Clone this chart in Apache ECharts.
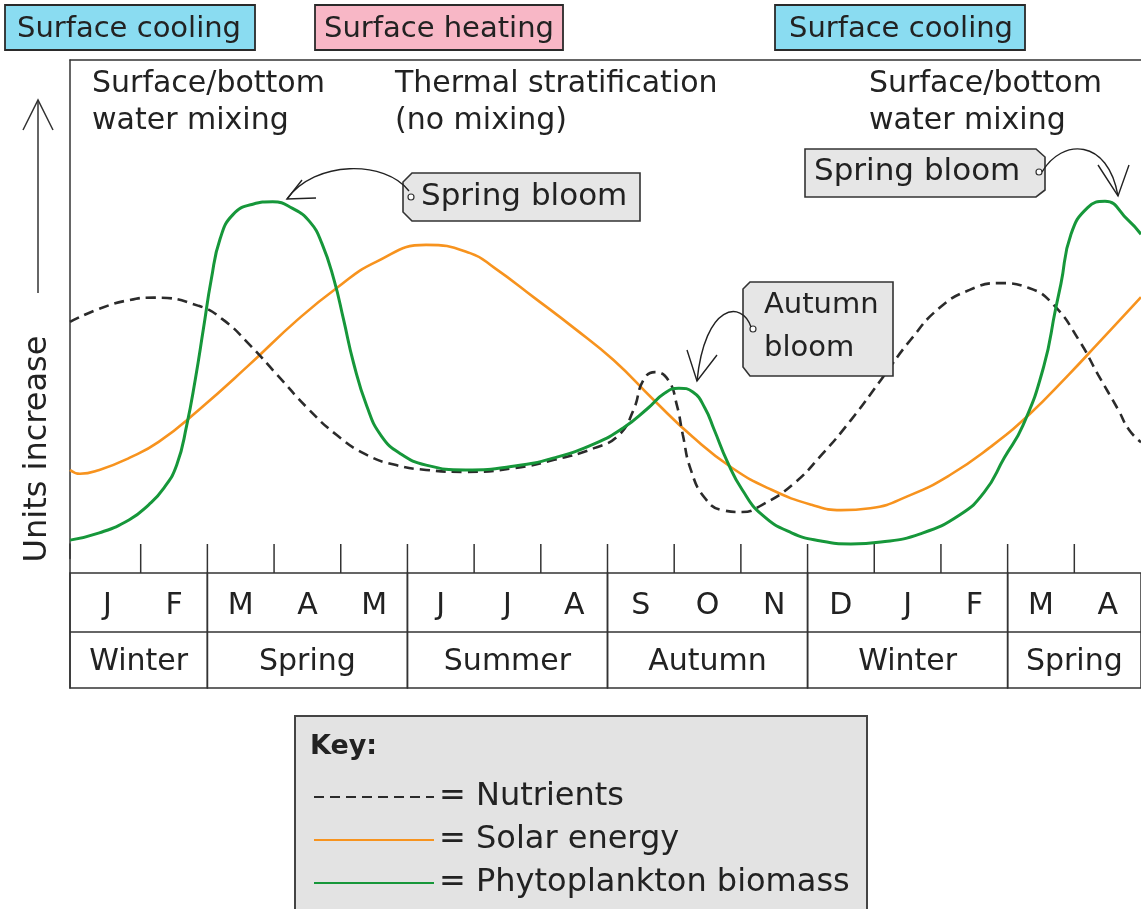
<!DOCTYPE html>
<html><head><meta charset="utf-8">
<script src="https://cdn.jsdelivr.net/npm/echarts@6/dist/echarts.min.js"></script>
<style>html,body{margin:0;padding:0;background:#fff}#c{width:1141px;height:909px}</style>
</head><body><div id="c"></div>
<script>
// ---------- data ----------
const months = ['J','F','M','A','M','J','J','A','S','O','N','D','J','F','M','A'];
const seasons = ['Winter','Spring','Summer','Autumn','Winter','Spring'];
const seasonStart = [0, 2, 5, 8, 11, 14];
const seasonEnd = [2, 5, 8, 11, 14, 16];
const seriesNames = ['Nutrients', 'Solar energy', 'Phytoplankton biomass'];
// [month position, relative units]
const nutrients = [[-0.06,45.9],[0.38,48.6],[0.83,50.4],[1.2,50.9],[1.87,49.2],[2.24,46.3],[2.61,41.5],[3.05,34.9],[3.5,28.1],[3.94,22.5],[4.39,18.4],[4.83,16.3],[5.28,15.3],[5.87,14.9],[6.61,15.7],[7.2,17.4],[7.8,19.8],[8.17,22.5],[8.39,27.7],[8.54,33.9],[8.71,35.5],[8.91,33.9],[9.04,28.7],[9.13,22.5],[9.25,15.3],[9.46,9.5],[9.72,7.0],[10.02,6.6],[10.32,8.1],[10.77,12.2],[11.21,18.4],[11.65,25.6],[12.1,33.9],[12.54,42.1],[12.98,48.8],[13.43,52.5],[13.87,53.9],[14.32,52.9],[14.69,49.4],[15.07,42.1],[15.36,34.9],[15.66,27.7],[15.82,23.6],[16,21]];
const solarEnergy = [[-0.06,15.3],[0.09,14.5],[0.38,15.3],[0.83,17.8],[1.27,21.1],[1.87,27.7],[2.61,36.8],[3.35,46.3],[3.94,52.9],[4.53,58.3],[5.28,61.8],[5.94,60.1],[6.31,57.0],[6.91,50.8],[7.5,44.6],[8.09,38.0],[8.69,29.8],[9.28,22.1],[9.87,15.7],[10.46,11.2],[11.06,8.1],[11.5,7.0],[11.94,7.4],[12.54,10.1],[13.13,14.2],[13.72,19.8],[14.32,26.7],[14.91,34.9],[15.36,41.5],[15.82,48.3],[16,51]];
const phytoplankton = [[-0.06,0.8],[0.38,2.3],[0.83,5.0],[1.12,8.1],[1.35,11.6],[1.54,16.3],[1.69,24.5],[1.82,34.1],[1.94,44.4],[2.06,54.8],[2.19,63.0],[2.38,68.0],[2.68,70.2],[2.98,70.7],[3.27,69.4],[3.54,66.5],[3.72,62.0],[3.9,54.5],[4.04,46.5],[4.19,37.5],[4.39,28.5],[4.61,22.3],[4.9,18.6],[5.28,16.3],[5.87,15.3],[6.61,16.1],[7.2,17.8],[7.8,20.7],[8.24,24.0],[8.61,28.1],[8.86,31.2],[9.07,32.2],[9.28,31.4],[9.46,28.1],[9.6,23.6],[9.8,16.9],[10.02,11.2],[10.32,6.0],[10.76,2.3],[11.2,0.6],[11.65,0],[12.1,0.4],[12.69,2.1],[13.28,6.0],[13.65,10.7],[13.95,17.8],[14.23,24.5],[14.54,36.6],[14.72,48.6],[14.8,53.8],[14.95,64],[15.2,69.5],[15.46,70.8],[15.8,67],[16,64]];

// ---------- style / layout ----------
const X_MIN = -0.06, X_MAX = 16;
const FONT = 'DejaVu Sans';
const INK = '#222';
const FRAME = '#333';
const FS = 30;

const chart = echarts.init(document.getElementById('c'), null, {renderer: 'canvas'});

function monthItem(params, api) {
  const i = params.dataIndex;
  const s = api.value(0), e = api.value(1);
  const c = api.coord([(s + e) / 2, 62]);
  const children = [{
    type: 'text', x: c[0], y: c[1],
    style: {text: months[i], font: FS + 'px ' + FONT, fill: INK, align: 'center', verticalAlign: 'middle'}
  }];
  if (i < months.length - 1) {
    const t0 = api.coord([e, 0]), t1 = api.coord([e, 29]);
    children.push({type: 'line', shape: {x1: t0[0], y1: t0[1], x2: t1[0], y2: t1[1]},
      style: {stroke: FRAME, lineWidth: 1.5}});
  }
  return {type: 'group', children};
}
function seasonItem(params, api) {
  const i = params.dataIndex;
  let s = api.value(0); const e = api.value(1);
  if (s <= 0) s = X_MIN;
  const p0 = api.coord([s, 29]), p1 = api.coord([e, 144]);
  const mid = api.coord([s, 88]);
  const c = api.coord([(s + e) / 2, 118]);
  return {type: 'group', children: [
    {type: 'rect', shape: {x: p0[0], y: p0[1], width: p1[0] - p0[0], height: p1[1] - p0[1]},
      style: {fill: 'none', stroke: FRAME, lineWidth: 1.5}},
    {type: 'line', shape: {x1: mid[0], y1: mid[1], x2: p1[0], y2: mid[1]}, style: {stroke: FRAME, lineWidth: 1.5}},
    {type: 'text', x: c[0], y: c[1],
      style: {text: seasons[i], font: FS + 'px ' + FONT, fill: INK, align: 'center', verticalAlign: 'middle'}}
  ]};
}

function txt(text, x, y, opt) {
  opt = opt || {};
  return {type: 'text', x: x, y: y, z: 100, rotation: opt.rotation || 0,
    style: {text: text, font: (opt.weight || 'normal') + ' ' + (opt.size || FS) + 'px ' + FONT,
      fill: INK, align: opt.align || 'left', verticalAlign: 'middle'}};
}
function box(x, y, w, h, fill) {
  return {type: 'rect', z: 90, shape: {x: x, y: y, width: w, height: h},
    style: {fill: fill, stroke: '#2a2a2a', lineWidth: 1.8}};
}
function tag(points, hole) {
  return [
    {type: 'polygon', z: 90, shape: {points: points}, style: {fill: '#e6e6e6', stroke: '#333', lineWidth: 1.6}},
    {type: 'circle', z: 95, shape: {cx: hole[0], cy: hole[1], r: 3}, style: {fill: '#fff', stroke: '#333', lineWidth: 1.2}}
  ];
}
function arrow(b, tip, a1, a2) {
  return [
    {type: 'bezierCurve', z: 95, shape: {x1: b[0], y1: b[1], cpx1: b[2], cpy1: b[3], cpx2: b[4], cpy2: b[5], x2: tip[0], y2: tip[1]},
      style: {stroke: '#222', lineWidth: 1.4, fill: 'none'}},
    {type: 'polyline', z: 95, shape: {points: [a1, tip, a2]}, style: {stroke: '#222', lineWidth: 1.4, fill: 'none'}}
  ];
}

const graphics = [
  box(5, 5, 250, 45, '#8adcf1'), txt('Surface cooling', 129, 29, {align: 'center', size: 29}),
  box(315, 5, 248, 45, '#f8b7c6'), txt('Surface heating', 439, 29, {align: 'center', size: 29}),
  box(775, 5, 250, 45, '#8adcf1'), txt('Surface cooling', 901, 29, {align: 'center', size: 29}),
  txt('Surface/bottom', 92, 84), txt('water mixing', 92, 121),
  txt('Thermal stratification', 395, 84), txt('(no mixing)', 395, 121),
  txt('Surface/bottom', 869, 84), txt('water mixing', 869, 121),
  // y-axis label and arrow
  txt('Units increase', 38, 449, {align: 'center', rotation: Math.PI / 2, size: 32}),
  {type: 'line', z: 90, shape: {x1: 38, y1: 293, x2: 38, y2: 100}, style: {stroke: '#333', lineWidth: 1.5}},
  {type: 'polyline', z: 90, shape: {points: [[23, 130], [38, 100], [53, 130]]}, style: {stroke: '#333', lineWidth: 1.5, fill: 'none'}},
  // callouts
  ...tag([[412,173],[640,173],[640,221],[412,221],[403,212],[403,182]], [411,197]),
  txt('Spring bloom', 421, 197, {size: 31}),
  ...arrow([409,191,385,160,315,160], [287,199], [302,180], [316,198]),
  ...tag([[750,282],[893,282],[893,376],[750,376],[743,367],[743,289]], [753,329]),
  txt('Autumn', 764, 305, {size: 29}), txt('bloom', 764, 348, {size: 29}),
  ...arrow([751,327,742,300,705,303], [697,381], [687,350], [717,355]),
  ...tag([[805,149],[1036,149],[1045,157],[1045,190],[1036,197],[805,197]], [1039,172]),
  txt('Spring bloom', 814, 172, {size: 31}),
  ...arrow([1042,172,1062,138,1108,138], [1118,196], [1098,165], [1129,165]),
  // key box
  {type: 'rect', z: 1, shape: {x: 295, y: 716, width: 572, height: 220}, style: {fill: '#e3e3e3', stroke: '#444', lineWidth: 2}},
  txt('Key:', 310, 747, {weight: 'bold', size: 27})
];

const lineCommon = {type: 'line', smooth: 0.5, symbol: 'none', clip: true};

chart.setOption({
  animation: false,
  backgroundColor: '#fff',
  grid: [
    {left: 70, top: 60, width: 1083.2, height: 498.5},
    {left: 70, top: 544, width: 1083.2, height: 144}
  ],
  xAxis: [
    {type: 'value', gridIndex: 0, min: X_MIN, max: X_MAX, position: 'top',
      axisLine: {show: true, onZero: false, lineStyle: {color: FRAME, width: 1.5}},
      axisTick: {show: false}, axisLabel: {show: false}, splitLine: {show: false}},
    {type: 'value', gridIndex: 1, min: X_MIN, max: X_MAX, show: false}
  ],
  yAxis: [
    {type: 'value', gridIndex: 0, min: -3, max: 100,
      axisLine: {show: true, onZero: false, lineStyle: {color: FRAME, width: 1.5}},
      axisTick: {show: false}, axisLabel: {show: false}, splitLine: {show: false}},
    {type: 'value', gridIndex: 1, min: 0, max: 144, inverse: true,
      axisLine: {show: true, onZero: false, lineStyle: {color: FRAME, width: 1.5}},
      axisTick: {show: false}, axisLabel: {show: false}, splitLine: {show: false}}
  ],
  legend: {
    orient: 'vertical', left: 313, top: 781, padding: 0,
    itemWidth: 120, itemHeight: 14, itemGap: 11,
    data: seriesNames,
    formatter: n => '= ' + n,
    itemStyle: {opacity: 0},
    textStyle: {fontFamily: FONT, fontSize: 32, color: INK},
    selectedMode: false, z: 10
  },
  graphic: graphics,
  series: [
    {type: 'custom', xAxisIndex: 1, yAxisIndex: 1, silent: true, clip: false,
      data: months.map((m, i) => [i, i + 1]), renderItem: monthItem},
    {type: 'custom', xAxisIndex: 1, yAxisIndex: 1, silent: true, clip: false,
      data: seasons.map((s, i) => [seasonStart[i], seasonEnd[i]]), renderItem: seasonItem},
    Object.assign({name: seriesNames[0], data: nutrients, z: 5,
      lineStyle: {color: '#2b2b2b', width: 2.6, type: [10, 6]}, itemStyle: {color: '#2b2b2b'}}, lineCommon),
    Object.assign({name: seriesNames[1], data: solarEnergy, z: 4,
      lineStyle: {color: '#f7931e', width: 2.6}, itemStyle: {color: '#f7931e'}}, lineCommon),
    Object.assign({name: seriesNames[2], data: phytoplankton, z: 6,
      lineStyle: {color: '#16973a', width: 3}, itemStyle: {color: '#16973a'}}, lineCommon)
  ]
});
</script></body></html>
